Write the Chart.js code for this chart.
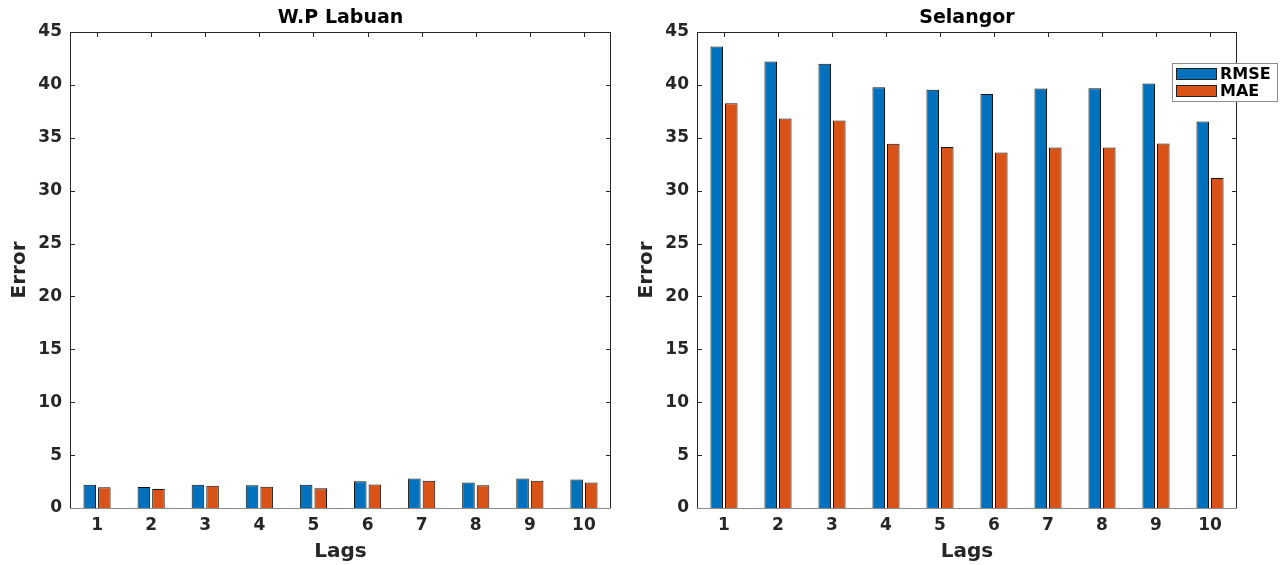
<!DOCTYPE html>
<html>
<head>
<meta charset="utf-8">
<script src="https://cdn.jsdelivr.net/npm/chart.js@4/dist/chart.umd.min.js"></script>
<style>
    body { margin: 0; background: #fff; }
    .panel { position: absolute; top: 0; height: 565px; }
    #left { left: 0; width: 627px; }
    #right { left: 627px; width: 654px; }
</style>
</head>
<body>
<div class="panel" id="left"><canvas id="labuanChart"></canvas></div>
<div class="panel" id="right"><canvas id="selangorChart"></canvas></div>
<script>
// Données
const lags = ['1', '2', '3', '4', '5', '6', '7', '8', '9', '10'];
const yTicks = [0, 5, 10, 15, 20, 25, 30, 35, 40, 45];

const labuanRmse = [2.20, 1.98, 2.20, 2.14, 2.20, 2.52, 2.80, 2.42, 2.80, 2.70];
const labuanMae  = [1.95, 1.79, 2.11, 2.01, 1.86, 2.23, 2.58, 2.14, 2.58, 2.42];

const selangorRmse = [43.62, 42.20, 42.01, 39.78, 39.53, 39.15, 39.65, 39.69, 40.13, 36.54];
const selangorMae  = [38.27, 36.82, 36.64, 34.43, 34.12, 33.62, 34.09, 34.09, 34.47, 31.19];

const blue = '#0072BD';
const orange = '#D95319';
const dark = '#262626';

Chart.defaults.font.family = '"DejaVu Sans", sans-serif';
Chart.defaults.font.weight = 'bold';
Chart.defaults.color = dark;

// Cadre style MATLAB avec graduations vers l'intérieur
const framePlugin = {
    id: 'frame',
    afterDraw(chart) {
        const { ctx, chartArea: a, scales } = chart;
        const len = 5;
        ctx.save();
        ctx.strokeStyle = dark;
        ctx.lineWidth = 1;
        ctx.strokeRect(a.left + 0.5, a.top + 0.5, a.right - a.left - 1, a.bottom - a.top);
        ctx.beginPath();
        scales.y.ticks.forEach((t, i) => {
            const y = Math.round(scales.y.getPixelForTick(i)) + 0.5;
            ctx.moveTo(a.left, y); ctx.lineTo(a.left + len, y);
            ctx.moveTo(a.right, y); ctx.lineTo(a.right - len, y);
        });
        scales.x.ticks.forEach((t, i) => {
            const x = Math.round(scales.x.getPixelForTick(i)) + 0.5;
            ctx.moveTo(x, a.top); ctx.lineTo(x, a.top + len);
        });
        ctx.stroke();
        // ligne de base grise
        ctx.strokeStyle = '#8a8a8a';
        ctx.beginPath();
        ctx.moveTo(a.left, a.bottom + 0.5);
        ctx.lineTo(a.right, a.bottom + 0.5);
        ctx.stroke();
        ctx.restore();
    }
};

// Légende dessinée à la main (elle déborde du cadre à droite)
const boxLegend = {
    id: 'boxLegend',
    afterDraw(chart, args, opts) {
        if (!opts.show) return;
        const { ctx, chartArea: a } = chart;
        const x = a.right - 65, y = 63, w = 105, h = 38;
        ctx.save();
        ctx.fillStyle = '#fff';
        ctx.fillRect(x, y, w, h);
        ctx.strokeStyle = '#8c8c8c';
        ctx.lineWidth = 1;
        ctx.strokeRect(x + 0.5, y + 0.5, w, h);
        ctx.font = 'bold 16px "DejaVu Sans", sans-serif';
        ctx.textBaseline = 'middle';
        chart.data.datasets.forEach((ds, i) => {
            const sy = y + 5 + i * 17;
            ctx.fillStyle = ds.backgroundColor;
            ctx.fillRect(x + 4, sy, 41, 12);
            ctx.strokeStyle = '#222';
            ctx.strokeRect(x + 4.5, sy + 0.5, 40, 11);
            ctx.fillStyle = '#000';
            ctx.fillText(ds.label, x + 48, sy + 7);
        });
        ctx.restore();
    }
};

function makeChart(id, title, rmse, mae, rightPad, withLegend) {
    const ctx = document.getElementById(id).getContext('2d');
    return new Chart(ctx, {
        type: 'bar',
        data: {
            labels: lags,
            datasets: [
                { label: 'RMSE', data: rmse, backgroundColor: blue, borderColor: '#111', borderWidth: 1,
                  categoryPercentage: 0.54, barPercentage: 0.86 },
                { label: 'MAE', data: mae, backgroundColor: orange, borderColor: '#111', borderWidth: 1,
                  categoryPercentage: 0.54, barPercentage: 0.86 }
            ]
        },
        options: {
            responsive: true,
            maintainAspectRatio: false,
            animation: false,
            layout: { padding: { top: 0, right: rightPad, bottom: 0, left: 0 } },
            plugins: {
                legend: { display: false },
                tooltip: { enabled: false },
                title: {
                    display: true,
                    text: title,
                    color: '#000',
                    fullSize: false,
                    font: { size: 19, weight: 'bold', lineHeight: 1.2 },
                    padding: { top: 6.6, bottom: 2.6 }
                },
                boxLegend: { show: withLegend }
            },
            scales: {
                x: {
                    grid: { display: false, drawTicks: false },
                    border: { display: false },
                    ticks: { font: { size: 17 }, padding: 7, color: dark, maxRotation: 0 },
                    title: { display: true, text: 'Lags', color: dark,
                             font: { size: 20, weight: 'bold', lineHeight: 1.2 },
                             padding: { top: 0, bottom: 1 } },
                    afterFit: s => { s.height = 57; }
                },
                y: {
                    min: 0,
                    max: 45,
                    afterBuildTicks: s => { s.ticks = yTicks.map(v => ({ value: v })); },
                    grid: { display: false, drawTicks: false },
                    border: { display: false },
                    ticks: { font: { size: 17 }, padding: 8, color: dark },
                    title: { display: true, text: 'Error', color: dark,
                             font: { size: 20, weight: 'bold', lineHeight: 1.2 },
                             padding: { top: 8, bottom: 0 } },
                    afterFit: s => { s.width = 70; }
                }
            }
        },
        plugins: [framePlugin, boxLegend]
    });
}

const labuanChart = makeChart('labuanChart', 'W.P Labuan', labuanRmse, labuanMae, 16, false);
const selangorChart = makeChart('selangorChart', 'Selangor', selangorRmse, selangorMae, 44, true);
</script>
</body>
</html>
